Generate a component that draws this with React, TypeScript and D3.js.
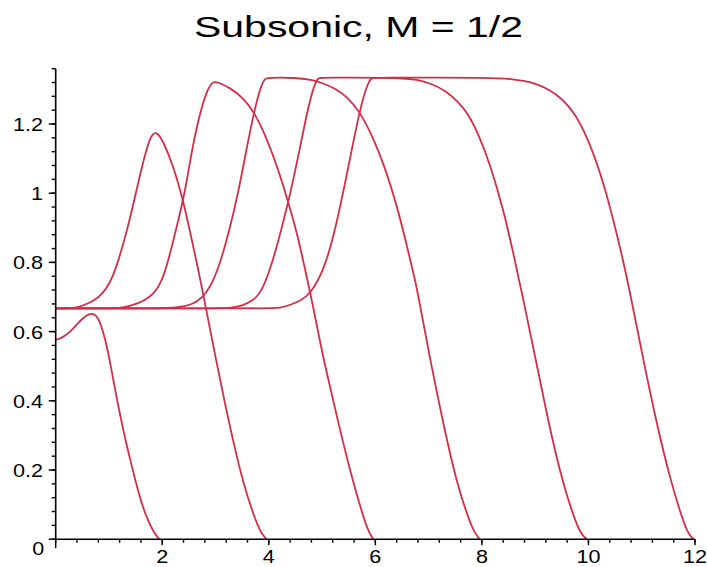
import React from "react";
import * as d3 from "d3";

// ---- data ----
const curve1: [number, number][] = [
  [0, 0.576], [0.13, 0.583], [0.26, 0.597], [0.44, 0.629], [0.58, 0.648], [0.68, 0.654],
  [0.79, 0.644], [0.88, 0.607], [0.976, 0.548], [1.06, 0.478], [1.145, 0.408], [1.25, 0.328],
  [1.333, 0.272], [1.43, 0.21], [1.52, 0.155], [1.62, 0.1], [1.71, 0.062], [1.85, 0.016], [1.95, 0],
];
const curve2: [number, number][] = [
  [0, 0.667], [0.25, 0.667], [0.4, 0.669], [0.63, 0.682], [0.8, 0.698], [0.944, 0.722],
  [1.06, 0.755], [1.164, 0.799], [1.32, 0.88], [1.475, 0.98], [1.6, 1.065], [1.727, 1.14],
  [1.8, 1.168], [1.87, 1.176], [1.93, 1.17], [2.01, 1.152], [2.196, 1.084], [2.384, 0.985],
  [2.52, 0.89], [2.647, 0.8], [2.74, 0.73], [2.82, 0.668], [3.02, 0.51], [3.2, 0.375],
  [3.33, 0.285], [3.52, 0.16], [3.77, 0.045], [3.87, 0.015], [3.96, 0],
];
const curve3: [number, number][] = [
  [0, 0.667], [1.0, 0.667], [1.25, 0.668], [1.57, 0.682], [1.75, 0.698], [1.883, 0.717],
  [2.0, 0.75], [2.1, 0.797], [2.258, 0.894], [2.43, 1.004], [2.55, 1.12], [2.67, 1.207],
  [2.78, 1.27], [2.87, 1.305], [2.95, 1.322], [3.03, 1.322], [3.27, 1.305], [3.52, 1.276],
  [3.74, 1.231], [3.96, 1.159], [4.15, 1.081], [4.366, 0.975], [4.554, 0.87], [4.68, 0.78],
  [4.81, 0.69], [5.0, 0.54], [5.15, 0.44], [5.3, 0.34], [5.52, 0.2], [5.78, 0.06],
  [5.88, 0.02], [5.96, 0],
];
const curve4: [number, number][] = [
  [0, 0.667], [2.0, 0.667], [2.3, 0.669], [2.58, 0.679], [2.75, 0.698], [2.897, 0.727],
  [3.08, 0.792], [3.27, 0.899], [3.43, 1.004], [3.585, 1.13], [3.71, 1.226], [3.835, 1.303],
  [3.92, 1.33], [3.97, 1.334], [4.5, 1.334], [4.8, 1.328], [5.02, 1.318], [5.25, 1.302],
  [5.46, 1.28], [5.71, 1.236], [5.96, 1.16], [6.18, 1.075], [6.4, 0.966], [6.59, 0.85],
  [6.745, 0.75], [6.81, 0.7], [7.03, 0.518], [7.28, 0.33], [7.53, 0.16], [7.78, 0.045],
  [7.88, 0.015], [7.96, 0],
];
const curve5: [number, number][] = [
  [0, 0.667], [3.0, 0.667], [3.3, 0.669], [3.5, 0.674], [3.7, 0.69], [3.835, 0.708],
  [4.02, 0.775], [4.21, 0.879], [4.4, 0.995], [4.59, 1.135], [4.7, 1.22], [4.8, 1.285],
  [4.88, 1.322], [4.93, 1.333], [4.98, 1.334], [6.5, 1.334], [6.78, 1.328], [7.03, 1.318],
  [7.3, 1.298], [7.55, 1.266], [7.75, 1.228], [7.95, 1.165], [8.15, 1.085], [8.4, 0.955],
  [8.6, 0.82], [8.78, 0.691], [9.03, 0.505], [9.28, 0.315], [9.53, 0.155], [9.78, 0.04],
  [9.88, 0.012], [9.97, 0],
];
const curve6: [number, number][] = [
  [0, 0.667], [4.0, 0.667], [4.21, 0.668], [4.4, 0.677], [4.6, 0.69], [4.774, 0.708],
  [5.02, 0.773], [5.21, 0.87], [5.4, 1.004], [5.587, 1.149], [5.744, 1.264], [5.87, 1.322],
  [5.93, 1.333], [5.98, 1.334], [8.28, 1.334], [8.55, 1.33], [8.78, 1.325], [9.03, 1.316],
  [9.28, 1.298], [9.5, 1.274], [9.75, 1.231], [10.0, 1.154], [10.25, 1.048], [10.47, 0.922],
  [10.66, 0.8], [10.81, 0.69], [11.03, 0.518], [11.28, 0.335], [11.53, 0.175], [11.78, 0.05],
  [11.88, 0.015], [11.97, 0],
];
const curves = [curve1, curve2, curve3, curve4, curve5, curve6];

const xTickLabels = [2, 4, 6, 8, 10, 12];
const yTickLabels = [0.2, 0.4, 0.6, 0.8, 1, 1.2];
const xDomain: [number, number] = [0, 12];
const yDomain: [number, number] = [0, 1.36];
const xMinorStep = 0.4;
const yMinorStep = 0.04;
const title = "Subsonic, M = 1/2";

// ---- layout ----
const W = 707;
const H = 567;
const X0 = 55.7;
const X1 = 695;
const Y0 = 539.2;
const Y1 = 539.2 - 1.36 * 346;
const LINE_COLOR = "#d42d48";
const FONT = "'Liberation Sans', Arial, Helvetica, sans-serif";

export default function App() {
  const x = d3.scaleLinear().domain(xDomain).range([X0, X1]);
  const y = d3.scaleLinear().domain(yDomain).range([Y0, Y1]);
  const line = d3
    .line<[number, number]>()
    .x((d) => x(d[0]))
    .y((d) => y(d[1]))
    .curve(d3.curveBasis);

  const xMinor = d3.range(xDomain[0], xDomain[1] + 1e-9, xMinorStep);
  const yMinor = d3.range(yDomain[0], yDomain[1] + 1e-9, yMinorStep);
  const fmt = (v: number) => String(v);

  return (
    <svg
      width={W}
      height={H}
      viewBox={`0 0 ${W} ${H}`}
      style={{ position: "absolute", left: 0, top: 0, background: "#fff" }}
    >
      <rect x={0} y={0} width={W} height={H} fill="#fff" />
      <text
        x={358.5}
        y={37}
        fontFamily={FONT}
        fontSize={29}
        textAnchor="middle"
        textLength={329}
        lengthAdjust="spacingAndGlyphs"
        fill="#000"
      >
        {title}
      </text>

      {/* curves */}
      <g fill="none" stroke={LINE_COLOR} strokeWidth={1.8} strokeLinejoin="round">
        {curves.map((c, i) => (
          <path key={i} d={line(c) ?? ""} />
        ))}
      </g>

      {/* axes */}
      <g stroke="#000" strokeWidth={1.6}>
        <line x1={X0} x2={X0} y1={Y0} y2={Y1} />
        <line x1={X0} x2={X1} y1={Y0} y2={Y0} />
      </g>
      <g stroke="#000" strokeWidth={1.4}>
        {yMinor.map((v, i) => (
          <line key={"ym" + i} x1={X0 - 4} x2={X0} y1={y(v)} y2={y(v)} />
        ))}
        {[0, ...yTickLabels].map((v, i) => (
          <line key={"yM" + i} x1={X0 - 7} x2={X0} y1={y(v)} y2={y(v)} />
        ))}
        {xMinor.map((v, i) => (
          <line key={"xm" + i} x1={x(v)} x2={x(v)} y1={Y0} y2={Y0 + 3.5} />
        ))}
        {[0, ...xTickLabels].map((v, i) => (
          <line key={"xM" + i} x1={x(v)} x2={x(v)} y1={Y0} y2={Y0 + (v === 0 ? 9 : 6)} />
        ))}
      </g>

      {/* tick labels */}
      <g fontFamily={FONT} fontSize={18} fill="#000">
        {yTickLabels.map((v, i) => (
          <text key={"yl" + i} transform={`translate(43,${y(v) + 7}) scale(1.2,1)`} textAnchor="end">
            {fmt(v)}
          </text>
        ))}
        <text transform={`translate(38.3,${555}) scale(1.2,1)`} textAnchor="middle">
          0
        </text>
        {xTickLabels.map((v, i) => (
          <text key={"xl" + i} transform={`translate(${x(v)},562.5) scale(1.2,1)`} textAnchor="middle">
            {fmt(v)}
          </text>
        ))}
      </g>
    </svg>
  );
}
